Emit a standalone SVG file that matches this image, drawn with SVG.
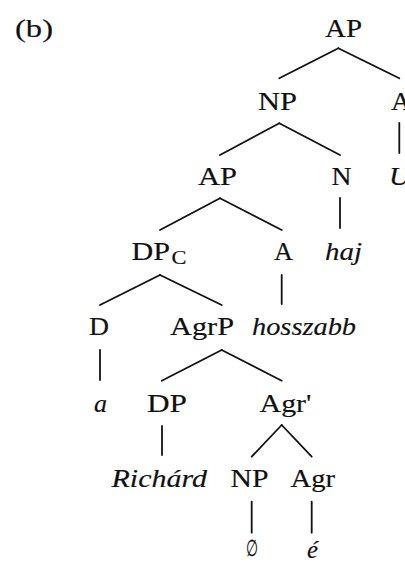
<svg xmlns="http://www.w3.org/2000/svg" width="405" height="563" viewBox="0 0 405 563">
<style>
text{font-family:"Liberation Serif","DejaVu Serif",serif;font-size:25px;fill:#111;stroke:#111;stroke-width:0.15}
.it{font-style:italic}
.sub{font-size:18px}
.sym{font-family:"DejaVu Serif",serif;font-size:23px}
#edges line{stroke:#111;stroke-width:1.8;stroke-linecap:round}
</style>
<rect width="405" height="563" fill="#ffffff"/>
<text id="label" x="15" y="37" textLength="38" lengthAdjust="spacingAndGlyphs">(b)</text>
<g id="edges">
<line x1="338.3" y1="48.3" x2="279.3" y2="78.3"/>
<line x1="338.3" y1="48.3" x2="399.3" y2="78.3"/>
<line x1="399.3" y1="123" x2="399.3" y2="153"/>
<line x1="279.3" y1="123.3" x2="220" y2="155"/>
<line x1="279.3" y1="123.3" x2="340" y2="155"/>
<line x1="340" y1="198" x2="340" y2="228"/>
<line x1="220" y1="198.3" x2="160" y2="230"/>
<line x1="220" y1="198.3" x2="281.7" y2="230"/>
<line x1="281.7" y1="275" x2="281.7" y2="304"/>
<line x1="160" y1="275" x2="100" y2="305"/>
<line x1="160" y1="275" x2="221.7" y2="305"/>
<line x1="100" y1="350" x2="100" y2="380"/>
<line x1="221.7" y1="350" x2="161.7" y2="380.7"/>
<line x1="221.7" y1="350" x2="281.7" y2="380.7"/>
<line x1="162" y1="426" x2="162" y2="455"/>
<line x1="281.7" y1="425" x2="251.7" y2="456.7"/>
<line x1="281.7" y1="425" x2="311.7" y2="456.7"/>
<line x1="251.7" y1="501.7" x2="251.7" y2="532.7"/>
<line x1="311.7" y1="501.7" x2="311.7" y2="532.7"/>
</g>
<g id="n-AP-root"><text x="325" y="37" textLength="37" lengthAdjust="spacingAndGlyphs">AP</text></g>
<g id="n-NP"><text x="258" y="110" textLength="39" lengthAdjust="spacingAndGlyphs">NP</text></g>
<g id="n-A-1"><text x="391" y="110" textLength="20" lengthAdjust="spacingAndGlyphs">A</text></g>
<g id="n-AP-2"><text x="198" y="185" textLength="39" lengthAdjust="spacingAndGlyphs">AP</text></g>
<g id="n-N"><text x="331.5" y="185" textLength="20" lengthAdjust="spacingAndGlyphs">N</text></g>
<g id="n-U"><text class="it" x="389" y="185" textLength="21" lengthAdjust="spacingAndGlyphs">U</text></g>
<g id="n-DPC"><text x="131.5" y="260" textLength="38.5" lengthAdjust="spacingAndGlyphs">DP</text><text class="sub" x="171.5" y="264" textLength="15" lengthAdjust="spacingAndGlyphs">C</text></g>
<g id="n-A-3"><text x="274" y="260" textLength="19" lengthAdjust="spacingAndGlyphs">A</text></g>
<g id="n-haj"><text class="it" x="325" y="260" textLength="37" lengthAdjust="spacingAndGlyphs">haj</text></g>
<g id="n-D"><text x="89" y="335" textLength="20" lengthAdjust="spacingAndGlyphs">D</text></g>
<g id="n-AgrP"><text x="170" y="335" textLength="64" lengthAdjust="spacingAndGlyphs">AgrP</text></g>
<g id="n-hosszabb"><text class="it" x="252" y="335" textLength="104" lengthAdjust="spacingAndGlyphs">hosszabb</text></g>
<g id="n-a"><text class="it" x="94" y="411.5" textLength="13" lengthAdjust="spacingAndGlyphs">a</text></g>
<g id="n-DP"><text x="147" y="411.5" textLength="40" lengthAdjust="spacingAndGlyphs">DP</text></g>
<g id="n-Agrbar"><text x="259.5" y="411.5" textLength="52" lengthAdjust="spacingAndGlyphs">Agr'</text></g>
<g id="n-Richard"><text class="it" x="111.5" y="486.5" textLength="95.5" lengthAdjust="spacingAndGlyphs">Richárd</text></g>
<g id="n-NP-6"><text x="230.5" y="486.5" textLength="38" lengthAdjust="spacingAndGlyphs">NP</text></g>
<g id="n-Agr"><text x="290.5" y="486.5" textLength="44.5" lengthAdjust="spacingAndGlyphs">Agr</text></g>
<g id="n-empty"><text class="sym" x="245.5" y="556" textLength="12" lengthAdjust="spacingAndGlyphs">∅</text></g>
<g id="n-e"><text class="it" x="307" y="558" textLength="11" lengthAdjust="spacingAndGlyphs">é</text></g>
</svg>
